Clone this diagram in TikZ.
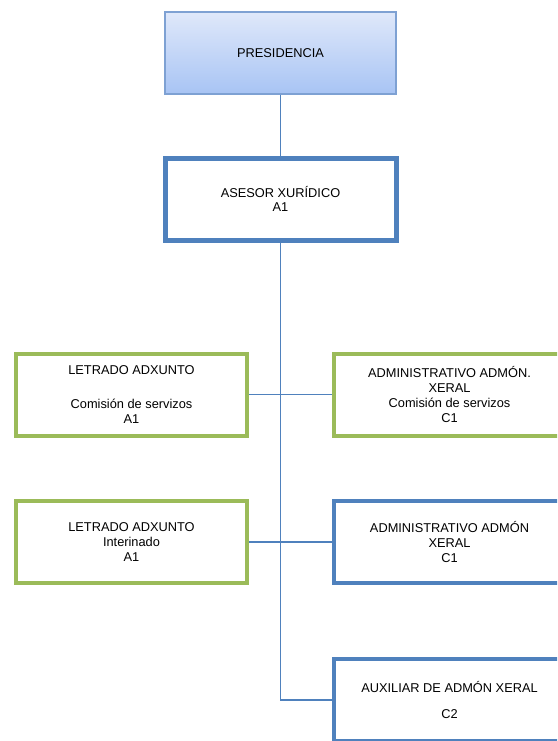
\documentclass[tikz,border=0pt]{standalone}
\usepackage{fontspec}
\setmainfont{Liberation Sans}
\usetikzlibrary{shadows}

\definecolor{bordeazul}{HTML}{4F81BD}
\definecolor{bordeverde}{HTML}{9BBB59}
\definecolor{presarriba}{HTML}{DFE8FA}
\definecolor{presabaixo}{HTML}{A8C4F4}
\definecolor{presborde}{HTML}{7EA1D3}

\tikzset{
  caixa/.style={draw, rectangle, align=center, fill=white,
    font=\fontsize{12.8}{14.8}\selectfont,
    minimum width=231pt, minimum height=82pt, inner sep=2pt},
  caixaazul/.style={caixa, draw=bordeazul, line width=4pt},
  caixaverde/.style={caixa, draw=bordeverde, line width=4pt},
  conector/.style={draw=bordeazul, line width=1.2pt}
}

\begin{document}
\begin{tikzpicture}[x=1pt, y=-1pt]
            \clip (0,0) rectangle (557,741);
            \fill[white] (0,0) rectangle (557,741);

            \node[caixa, draw=presborde, line width=1.5pt, top color=presarriba, bottom color=presabaixo,
                  drop shadow={shadow xshift=1pt, shadow yshift=-1.5pt, opacity=0.35}] (pres) at (280.5,53) {PRESIDENCIA};
            \node[caixaazul, line width=5pt] (asesor) at (280.5,199) {ASESOR XURÍDICO\\A1};

            \node[caixaverde] (letrado1) at (131.5,394.5) {LETRADO ADXUNTO\\[19pt]Comisión de servizos\\A1};
            \node[caixaverde] (admin1) at (449.5,394.5) {ADMINISTRATIVO ADMÓN.\\XERAL\\Comisión de servizos\\C1};
            \node[caixaverde] (letrado2) at (131.5,542) {LETRADO ADXUNTO\\Interinado\\A1};
            \node[caixaazul] (admin2) at (449.5,542) {ADMINISTRATIVO ADMÓN\\XERAL\\C1};
            \node[caixaazul] (aux) at (449.5,700) {AUXILIAR DE ADMÓN XERAL\\[11pt]C2};

            % liñas
            \draw[conector] (pres) -- (asesor);
            \draw[conector] (asesor.south) |- (aux.west);
            \draw[conector] (letrado1) -- (admin1);
            \draw[conector] (letrado2) -- (admin2);
        \end{tikzpicture}
\end{document}
